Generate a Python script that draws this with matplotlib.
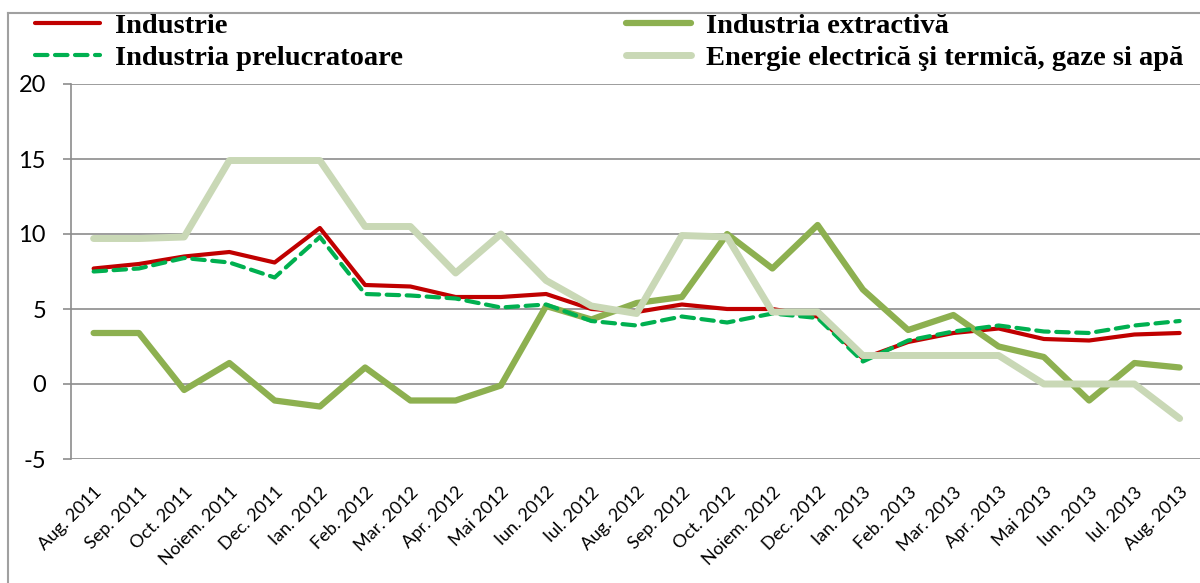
import matplotlib
matplotlib.use("Agg")
import matplotlib.pyplot as plt
from matplotlib.lines import Line2D

plt.rcParams["axes.unicode_minus"] = False

# Date (%)
luni = ["Aug. 2011", "Sep. 2011", "Oct. 2011", "Noiem. 2011", "Dec. 2011",
        "Ian. 2012", "Feb. 2012", "Mar. 2012", "Apr. 2012", "Mai 2012",
        "Iun. 2012", "Iul. 2012", "Aug. 2012", "Sep. 2012", "Oct. 2012",
        "Noiem. 2012", "Dec. 2012", "Ian. 2013", "Feb. 2013", "Mar. 2013",
        "Apr. 2013", "Mai 2013", "Iun. 2013", "Iul. 2013", "Aug. 2013"]

industrie = [7.7, 8.0, 8.5, 8.8, 8.1, 10.4, 6.6, 6.5, 5.8, 5.8, 6.0, 5.0, 4.8,
             5.3, 5.0, 5.0, 4.5, 1.7, 2.8, 3.4, 3.7, 3.0, 2.9, 3.3, 3.4]
extractiva = [3.4, 3.4, -0.4, 1.4, -1.1, -1.5, 1.1, -1.1, -1.1, -0.1, 5.2, 4.3,
              5.4, 5.8, 10.0, 7.7, 10.6, 6.3, 3.6, 4.6, 2.5, 1.8, -1.1, 1.4, 1.1]
prelucratoare = [7.5, 7.7, 8.4, 8.1, 7.1, 9.8, 6.0, 5.9, 5.7, 5.1, 5.3, 4.2, 3.9,
                 4.5, 4.1, 4.7, 4.4, 1.5, 2.9, 3.5, 3.9, 3.5, 3.4, 3.9, 4.2]
energie = [9.7, 9.7, 9.8, 14.9, 14.9, 14.9, 10.5, 10.5, 7.4, 10.0, 6.9, 5.2, 4.7,
           9.9, 9.8, 4.8, 4.8, 1.9, 1.9, 1.9, 1.9, 0.0, 0.0, 0.0, -2.3]

RED = "#C00000"
GREEN = "#00B050"
OLIVE = "#8DB050"
PALE = "#C9D8B6"
GRID = "#8C8C8C"

W, H = 1200, 583
fig = plt.figure(figsize=(W / 100, H / 100), dpi=100)

# chenarul exterior (taiat in dreapta si jos)
fig.add_artist(Line2D([8 / W, 1.01], [1 - 13 / H, 1 - 13 / H], color="#A0A0A0", lw=1.5))
fig.add_artist(Line2D([8 / W, 8 / W], [-0.01, 1 - 13 / H], color="#A0A0A0", lw=1.5))

left, right, top, bottom = 71, 1200, 84, 459
ax = fig.add_axes([left / W, 1 - bottom / H, (right - left) / W, (bottom - top) / H])

x = list(range(len(luni)))
l1, = ax.plot(x, industrie, color=RED, lw=3.0, solid_capstyle="round", zorder=3)
l2, = ax.plot(x, extractiva, color=OLIVE, lw=4.5, solid_capstyle="round", zorder=4)
l3, = ax.plot(x, prelucratoare, color=GREEN, lw=3.0, ls=(0, (3, 1.8)),
              dash_capstyle="round", zorder=5)
l4, = ax.plot(x, energie, color=PALE, lw=5.0, solid_capstyle="round", zorder=6)

ax.set_xlim(-0.5, len(luni) - 0.55)
ax.set_ylim(-5, 20)
ax.set_yticks([-5, 0, 5, 10, 15, 20])
ax.grid(axis="y", color=GRID, lw=1.2)
ax.set_axisbelow(True)
for s in ["top", "right", "bottom"]:
    ax.spines[s].set_visible(False)
ax.spines["left"].set_color(GRID)
ax.spines["left"].set_linewidth(1.2)

ax.tick_params(axis="y", length=6, color=GRID, width=1.2, pad=12, labelsize=17)
ax.tick_params(axis="x", length=0, pad=18)
ax.set_xticks(x)
ax.set_xticklabels(luni, rotation=45, ha="right", va="top",
                   rotation_mode="anchor", fontsize=13, family="Lato")
for t in ax.get_yticklabels():
    t.set_family("Lato")

leg_font = {"family": "Liberation Serif", "weight": "bold", "size": 20.5}
kw = dict(loc="upper left", frameon=False, prop=leg_font, handlelength=2.3,
          handletextpad=0.52, labelspacing=0.22, borderpad=0, borderaxespad=0)
leg1 = fig.legend([l1, l3], ["Industrie", "Industria prelucratoare"],
                  bbox_to_anchor=(35 / W, 1 - 13 / H), **kw)
leg2 = fig.legend([l2, l4], ["Industria extractivă", "Energie electrică şi termică, gaze si apă"],
                  bbox_to_anchor=(626 / W, 1 - 13 / H), **kw)

fig.savefig("out.png", dpi=100)
